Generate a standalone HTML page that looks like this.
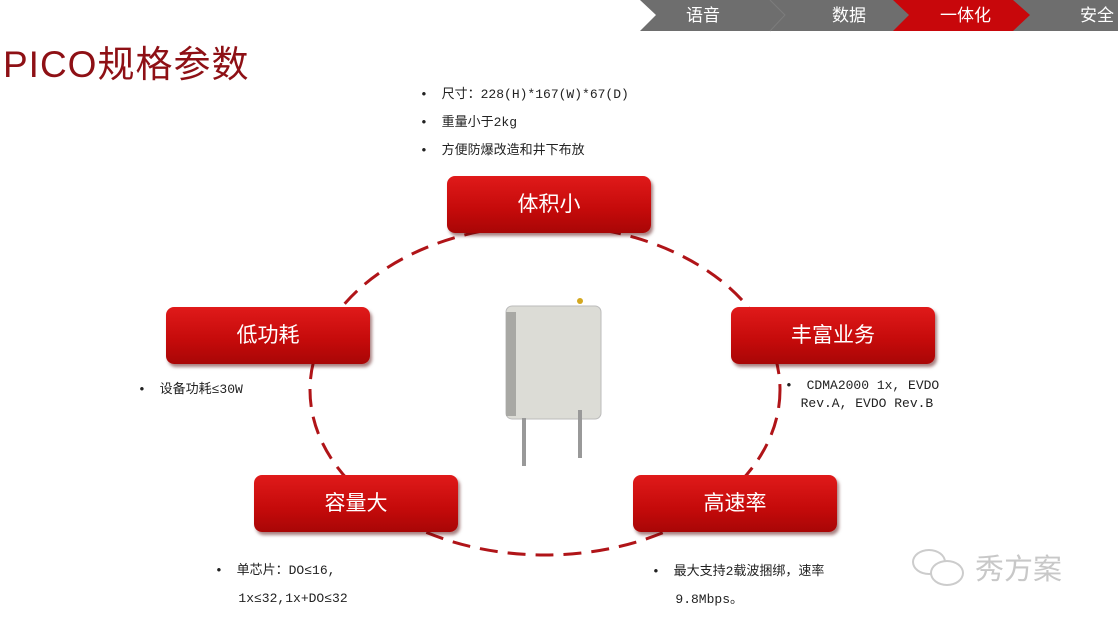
<!DOCTYPE html>
<html><head><meta charset="utf-8"><style>
body{margin:0;width:1118px;height:619px;background:#fff;position:relative;overflow:hidden;font-family:"Liberation Sans","Noto Sans CJK SC",sans-serif}
.box{position:absolute;width:204px;height:57px;border-radius:8px;background:linear-gradient(#e01a1a,#c40a0a 60%,#a80606);box-shadow:2px 3px 3px rgba(80,0,0,.5);color:#fff;font-size:21px;text-align:center;line-height:57px}
.t{position:absolute;font-family:"Liberation Mono","Noto Sans CJK SC",monospace;font-size:13px;color:#222;line-height:28px}
.b{display:inline-block;width:6px}
.tab{position:absolute;top:0;height:31px;color:#fff;font-size:17px;line-height:31px}
</style></head><body>
<svg width="1118" height="619" style="position:absolute;left:0;top:0">
<polygon points="640,0 1118,0 1118,31 640,31 656,15" fill="#6e6e6e"/>
<polyline points="770,0 785,15 770,31" fill="none" stroke="#7c7c7c" stroke-width="1"/>
<polygon points="893,0 1013,0 1030,15 1013,31 893,31 909,15" fill="#c8070b"/>
<ellipse cx="545" cy="390" rx="235" ry="165" fill="none" stroke="#b01418" stroke-width="3" stroke-dasharray="18,10"/>
<g>
<rect x="506" y="306" width="95" height="113" rx="6" fill="#dcdcd6" stroke="#bbb"/>
<rect x="506" y="312" width="10" height="104" fill="#a8a8a4"/>
<rect x="522" y="418" width="4" height="48" fill="#999"/>
<rect x="578" y="410" width="4" height="48" fill="#999"/>
<circle cx="580" cy="301" r="3" fill="#d4a820"/>
</g>
</svg>
<div style="position:absolute;left:3px;top:34px;font-size:37px;color:#8e1015;letter-spacing:1px">PICO规格参数</div>
<div class="tab" style="left:686px">语音</div>
<div class="tab" style="left:832px">数据</div>
<div class="tab" style="left:940px">一体化</div>
<div class="tab" style="left:1080px">安全</div>
<div class="box" style="left:447px;top:176px">体积小</div>
<div class="box" style="left:166px;top:307px">低功耗</div>
<div class="box" style="left:731px;top:307px">丰富业务</div>
<div class="box" style="left:254px;top:475px">容量大</div>
<div class="box" style="left:633px;top:475px">高速率</div>
<div class="t" style="left:420px;top:81px">•<span class="b"></span> 尺寸：228(H)*167(W)*67(D)<br>•<span class="b"></span> 重量小于2kg<br>•<span class="b"></span> 方便防爆改造和井下布放</div>
<div class="t" style="left:138px;top:376px">•<span class="b"></span> 设备功耗≤30W</div>
<div class="t" style="left:785px;top:377px;line-height:18px">•<span class="b"></span> CDMA2000 1x, EVDO<br>&nbsp;&nbsp;Rev.A, EVDO Rev.B</div>
<div class="t" style="left:215px;top:557px">•<span class="b"></span> 单芯片：DO≤16,<br>&nbsp;&nbsp;&nbsp;1x≤32,1x+DO≤32</div>
<div class="t" style="left:652px;top:558px">•<span class="b"></span> 最大支持2载波捆绑，速率<br>&nbsp;&nbsp;&nbsp;9.8Mbps。</div>
<div style="position:absolute;left:975px;top:546px;font-size:29px;color:#c8c8c8">秀方案</div>
<div style="position:absolute;left:912px;top:549px;width:30px;height:22px;border:2px solid #ccc;border-radius:50%"></div>
<div style="position:absolute;left:930px;top:560px;width:30px;height:22px;border:2px solid #ccc;border-radius:50%;background:#fff"></div>
</body></html>
